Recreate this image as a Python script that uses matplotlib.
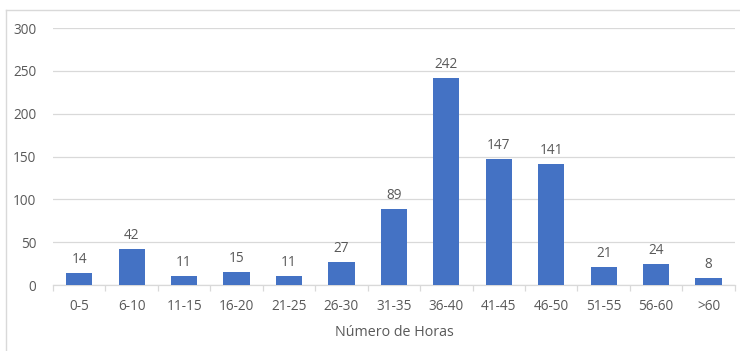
import numpy as np
import matplotlib.pyplot as plt
from matplotlib.lines import Line2D

horas = ['0-5', '6-10', '11-15', '16-20', '21-25', '26-30', '31-35',
         '36-40', '41-45', '46-50', '51-55', '56-60', '>60']
contagem = [14, 42, 11, 15, 11, 27, 89, 242, 147, 141, 21, 24, 8]

plt.rcParams['font.family'] = ['Open Sans', 'DejaVu Sans']
cinza = '#595959'
grade = '#d9d9d9'

fig = plt.figure(figsize=(7.4, 3.51), dpi=100)
ax = fig.add_axes([0.0716, 0.188, 0.9214, 0.732])

x = np.arange(len(horas))
ax.bar(x, contagem, width=0.5, color='#4472C4', zorder=3)
for xi, v in zip(x, contagem):
    ax.text(xi, v + 7, str(v), ha='center', va='bottom', fontsize=9.8, color=cinza)

ax.set_xlim(-0.5, len(horas) - 0.5)
ax.set_ylim(0, 300)
ax.set_yticks(range(0, 301, 50))
ax.yaxis.grid(True, color=grade, linewidth=0.9, zorder=0)
ax.set_xticks(x)
ax.set_xticklabels(horas)
ax.set_xticks(np.arange(-0.5, len(horas), 1), minor=True)
ax.tick_params(axis='x', which='major', length=0, pad=10, labelsize=9.8, labelcolor=cinza)
ax.tick_params(axis='x', which='minor', length=4, color=grade, width=0.9)
ax.tick_params(axis='y', length=0, pad=12, labelsize=9.8, labelcolor=cinza)

for s in ['top', 'right', 'left']:
    ax.spines[s].set_visible(False)
ax.spines['bottom'].set_color(grade)
ax.spines['bottom'].set_linewidth(0.9)

ax.set_xlabel('Número de Horas', fontsize=10.3, color=cinza, labelpad=8)

# moldura do gráfico
fig.add_artist(Line2D([6 / 740, 1], [1 - 10 / 351] * 2, color=grade, linewidth=1))
fig.add_artist(Line2D([6 / 740] * 2, [0, 1 - 10 / 351], color=grade, linewidth=1))

fig.savefig('out.png', dpi=100)
